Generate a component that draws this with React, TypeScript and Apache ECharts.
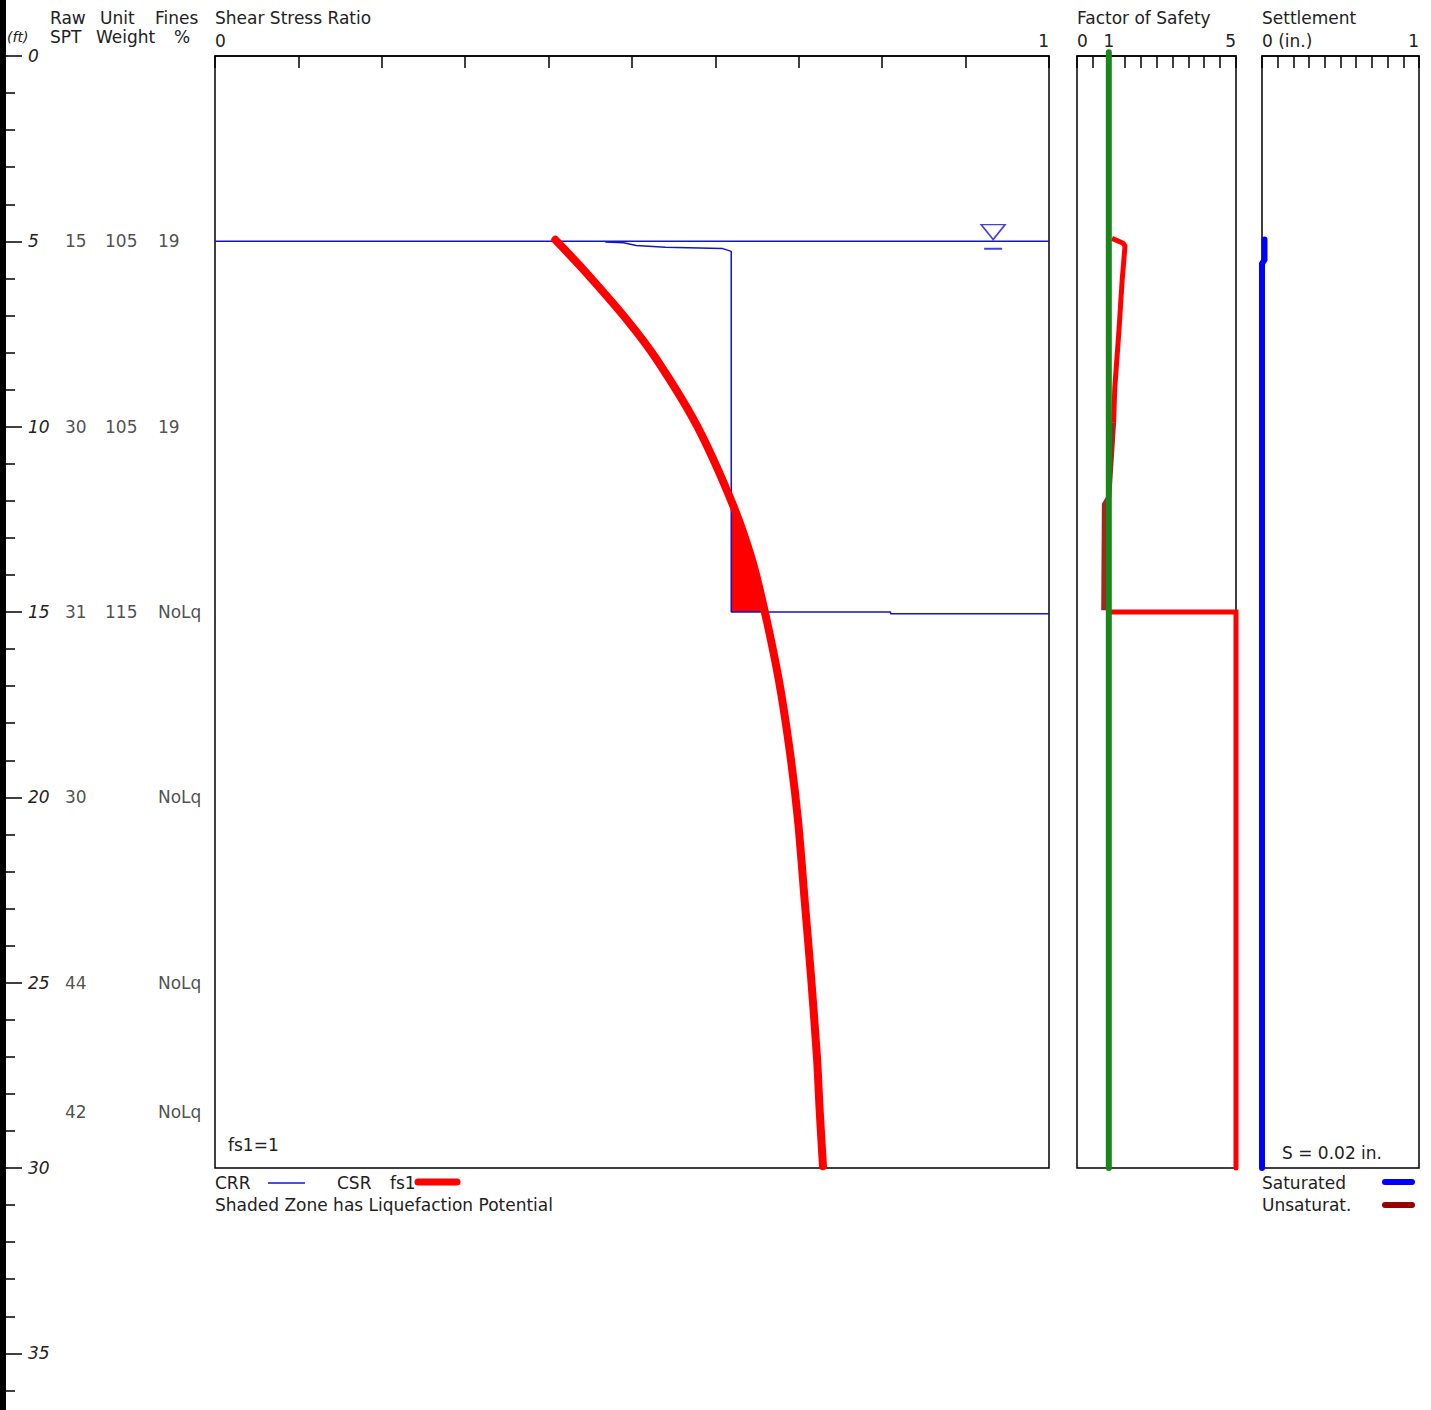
import React, { useEffect, useRef } from "react";
import * as echarts from "echarts";

// ---------- DATA ----------
const depthLabelsMax = 40;
const layerDepths = [5, 10, 15, 20, 25, 28.5];
const rawSPT = ["15", "30", "31", "30", "44", "42"];
const unitWeight = ["105", "105", "115", "", "", ""];
const finesPct = ["19", "19", "NoLq", "NoLq", "NoLq", "NoLq"];

// Shear stress ratio panel: [ratio, depth ft]
const waterTableLine: [number, number][] = [[0, 5], [1, 5]];
const crr: [number, number][] = [
  [0.468, 5.02], [0.49, 5.04], [0.505, 5.11], [0.54, 5.16], [0.608, 5.19],
  [0.619, 5.27], [0.619, 15.0], [0.81, 15.0], [0.81, 15.05], [1.0, 15.05],
];
const csr: [number, number][] = [
  [0.408, 4.96], [0.442, 5.77], [0.494, 7.12], [0.53, 8.2], [0.578, 9.98],
  [0.621, 12.11], [0.644, 13.6], [0.659, 14.97], [0.676, 16.83], [0.689, 18.72],
  [0.699, 20.61], [0.707, 22.77], [0.715, 24.93], [0.722, 27.09], [0.725, 28.43],
  [0.729, 29.95],
];
const shadedZone: [number, number][] = [
  [0.619, 12.1], [0.632, 12.8], [0.644, 13.6], [0.652, 14.3], [0.659, 15.0], [0.619, 15.0],
];
const waterSymbolPos: [number, number] = [0.933, 4.75];
const waterBarPos: [number, number] = [0.933, 5.2];

// Factor of safety panel: [FS, depth]
const fsLimit: [number, number][] = [[1, -0.1], [1, 30]];
const fsRed: [number, number][] = [
  [1.1, 4.92], [1.45, 5.05], [1.51, 5.13], [1.42, 6.05], [1.32, 7.4],
  [1.19, 8.93], [1.15, 9.9],
];
const fsDark: [number, number][] = [
  [1.15, 9.9], [1.12, 10.3], [1.0, 11.9], [0.86, 12.1], [0.84, 14.95],
];
const fsDeep: [number, number][] = [[1.0, 15.0], [5, 15.0], [5, 30]];

// Settlement panel: [settlement in., depth]
const settlement: [number, number][] = [[0.016, 4.95], [0.016, 5.5], [0.0, 5.6], [0.0, 30]];

const FONT = "DejaVu Sans";
const TXT = "#222";

export default function App() {
  const ref = useRef<HTMLDivElement>(null);

  useEffect(() => {
    document.body.style.margin = "0";
    if (!ref.current) return;
    const chart = echarts.init(ref.current, undefined, { renderer: "svg" });

    const pxPerFt = (1168 - 56) / 30;

    const plotGrid = (left: number, width: number) => ({
      left, top: 56, width, height: 1112,
      show: true, borderColor: "#000", borderWidth: 1.5, backgroundColor: "#fff",
      containLabel: false, outerBoundsMode: "none",
    });

    const topAxis = (gridIndex: number, max: number, interval: number, fmt: (v: number) => string) => ({
      type: "value", gridIndex, position: "top", min: 0, max, interval,
      axisLine: { show: true, lineStyle: { color: "#000", width: 1.5 } },
      axisTick: { show: true, inside: true, length: 12, lineStyle: { color: "#000", width: 1.5 } },
      splitLine: { show: false },
      axisLabel: {
        show: true, margin: 7, color: TXT, fontFamily: FONT, fontSize: 17,
        formatter: fmt, alignMinLabel: "left", alignMaxLabel: "right",
        showMinLabel: true, showMaxLabel: true,
      },
    });

    const hiddenY = (gridIndex: number) => ({
      type: "value", gridIndex, min: 0, max: 30, inverse: true, show: false,
    });

    const colSeries = (name: string, vals: string[], offset: number) => ({
      name, type: "scatter", xAxisIndex: 0, yAxisIndex: 0, symbolSize: 0,
      data: layerDepths.map((d, i) => [0, d, vals[i]]).filter((p) => p[2] !== ""),
      label: {
        show: true, position: "right", distance: 0, offset: [offset, 0],
        color: TXT, fontFamily: FONT, fontSize: 17,
        formatter: (p: any) => p.value[2],
      },
      silent: true,
    });

    const txt = (text: string, x: number, y: number, extra: any = {}) => ({
      type: "text", x, y,
      style: {
        text, fill: TXT, font: `17px "${FONT}"`, textVerticalAlign: "middle", ...extra,
      },
    });

    const option: any = {
      animation: false,
      backgroundColor: "#fff",
      grid: [
        {
          left: 3, top: 56, width: 210, height: depthLabelsMax * pxPerFt, show: false,
          containLabel: false, outerBoundsMode: "none",
        },
        plotGrid(215, 834),
        plotGrid(1077, 159),
        plotGrid(1262, 157),
      ],
      xAxis: [
        { type: "value", gridIndex: 0, min: 0, max: 1, show: false },
        topAxis(1, 1, 0.1, (v) => (Math.abs(v) < 1e-9 ? "0" : Math.abs(v - 1) < 1e-9 ? "1" : "")),
        topAxis(2, 5, 0.5, (v) =>
          Math.abs(v) < 1e-9 ? "0" : Math.abs(v - 1) < 1e-9 ? "1" : Math.abs(v - 5) < 1e-9 ? "5" : ""),
        topAxis(3, 1, 0.1, (v) => (Math.abs(v) < 1e-9 ? "0 (in.)" : Math.abs(v - 1) < 1e-9 ? "1" : "")),
      ],
      yAxis: [
        {
          type: "value", gridIndex: 0, min: 0, max: depthLabelsMax, interval: 5, inverse: true,
          position: "left",
          axisLine: { show: true, lineStyle: { color: "#000", width: 6 } },
          axisTick: { show: true, inside: true, length: 19, lineStyle: { color: "#000", width: 1.5 } },
          minorTick: { show: true, splitNumber: 5, length: 12, lineStyle: { color: "#000", width: 1.5 } },
          splitLine: { show: false },
          minorSplitLine: { show: false },
          axisLabel: {
            inside: true, margin: 25, color: TXT, fontFamily: FONT, fontSize: 17, fontStyle: "italic",
            formatter: (v: number) => (v >= depthLabelsMax ? "" : String(v)),
          },
        },
        hiddenY(1),
        hiddenY(2),
        hiddenY(3),
      ],
      series: [
        colSeries("Raw SPT", rawSPT, 62),
        colSeries("Unit Weight", unitWeight, 102),
        colSeries("Fines %", finesPct, 155),
        {
          name: "Water table", type: "line", xAxisIndex: 1, yAxisIndex: 1, data: waterTableLine,
          symbol: "none", lineStyle: { color: "#1414c8", width: 1.5 }, z: 3,
        },
        {
          name: "Shaded zone", type: "custom", xAxisIndex: 1, yAxisIndex: 1, data: shadedZone,
          renderItem: (params: any, api: any) => {
            if (params.dataIndex !== 0) return null;
            const pts = shadedZone.map((p) => api.coord(p));
            return { type: "polygon", shape: { points: pts }, style: { fill: "#ff0000" } };
          },
          z: 2, silent: true,
        },
        {
          name: "CRR", type: "line", xAxisIndex: 1, yAxisIndex: 1, data: crr,
          symbol: "none", lineStyle: { color: "#1414c8", width: 1.5 }, z: 3,
        },
        {
          name: "CSR fs1", type: "line", xAxisIndex: 1, yAxisIndex: 1, data: csr,
          symbol: "none", clip: false, smooth: 0.25,
          lineStyle: { color: "#ff0000", width: 8, cap: "round", join: "round" }, z: 4,
        },
        {
          name: "Water symbol", type: "scatter", xAxisIndex: 1, yAxisIndex: 1, silent: true,
          data: [
            {
              value: waterSymbolPos, symbol: "triangle", symbolRotate: 180, symbolSize: [24, 15],
              itemStyle: { color: "#fff", borderColor: "#1414c8", borderWidth: 1.5 },
            },
            {
              value: waterBarPos, symbol: "rect", symbolSize: [18, 2],
              itemStyle: { color: "#1414c8" },
            },
          ],
          z: 5,
        },
        {
          name: "FS red", type: "line", xAxisIndex: 2, yAxisIndex: 2, data: fsRed, symbol: "none",
          clip: false, lineStyle: { color: "#ff0000", width: 5, join: "round" }, z: 3,
        },
        {
          name: "FS dark", type: "line", xAxisIndex: 2, yAxisIndex: 2, data: fsDark, symbol: "none",
          clip: false, lineStyle: { color: "#a0281a", width: 5, join: "round" }, z: 3,
        },
        {
          name: "FS deep", type: "line", xAxisIndex: 2, yAxisIndex: 2, data: fsDeep, symbol: "none",
          clip: false, lineStyle: { color: "#ff0000", width: 5, cap: "round", join: "miter" }, z: 3,
        },
        {
          name: "FS = 1", type: "line", xAxisIndex: 2, yAxisIndex: 2, data: fsLimit, symbol: "none",
          clip: false, lineStyle: { color: "#1a861a", width: 6, cap: "round" }, z: 4,
        },
        {
          name: "Settlement", type: "line", xAxisIndex: 3, yAxisIndex: 3, data: settlement, symbol: "none",
          clip: false, lineStyle: { color: "#0000ff", width: 6, cap: "round", join: "round" }, z: 3,
        },
      ],
      graphic: [
        { type: "rect", shape: { x: 0, y: 0, width: 6, height: 58 }, style: { fill: "#000" } },
        txt("Raw", 50, 18),
        txt("Unit", 100, 18),
        txt("Fines", 155, 18),
        txt("Shear Stress Ratio", 215, 18),
        txt("(ft)", 7, 37, { font: `italic 14px "${FONT}"` }),
        txt("SPT", 50, 37),
        txt("Weight", 96, 37),
        txt("%", 174, 37),
        txt("Factor of Safety", 1077, 18),
        txt("Settlement", 1262, 18),
        txt("fs1=1", 228, 1145),
        txt("CRR", 215, 1183),
        { type: "line", shape: { x1: 268, y1: 1183, x2: 305, y2: 1183 }, style: { stroke: "#1414c8", lineWidth: 1.5 } },
        txt("CSR", 337, 1183),
        txt("fs1", 390, 1183),
        { type: "line", shape: { x1: 418, y1: 1182, x2: 457, y2: 1182 }, style: { stroke: "#ff0000", lineWidth: 7, lineCap: "round" } },
        txt("Shaded Zone has Liquefaction Potential", 215, 1205),
        txt("S = 0.02 in.", 1282, 1153),
        txt("Saturated", 1262, 1183),
        { type: "line", shape: { x1: 1385, y1: 1182, x2: 1412, y2: 1182 }, style: { stroke: "#0000ff", lineWidth: 6, lineCap: "round" } },
        txt("Unsaturat.", 1262, 1205),
        { type: "line", shape: { x1: 1385, y1: 1205, x2: 1412, y2: 1205 }, style: { stroke: "#990000", lineWidth: 6, lineCap: "round" } },
      ],
    };

    chart.setOption(option);
    return () => chart.dispose();
  }, []);

  return <div ref={ref} style={{ width: 1431, height: 1410 }} />;
}
